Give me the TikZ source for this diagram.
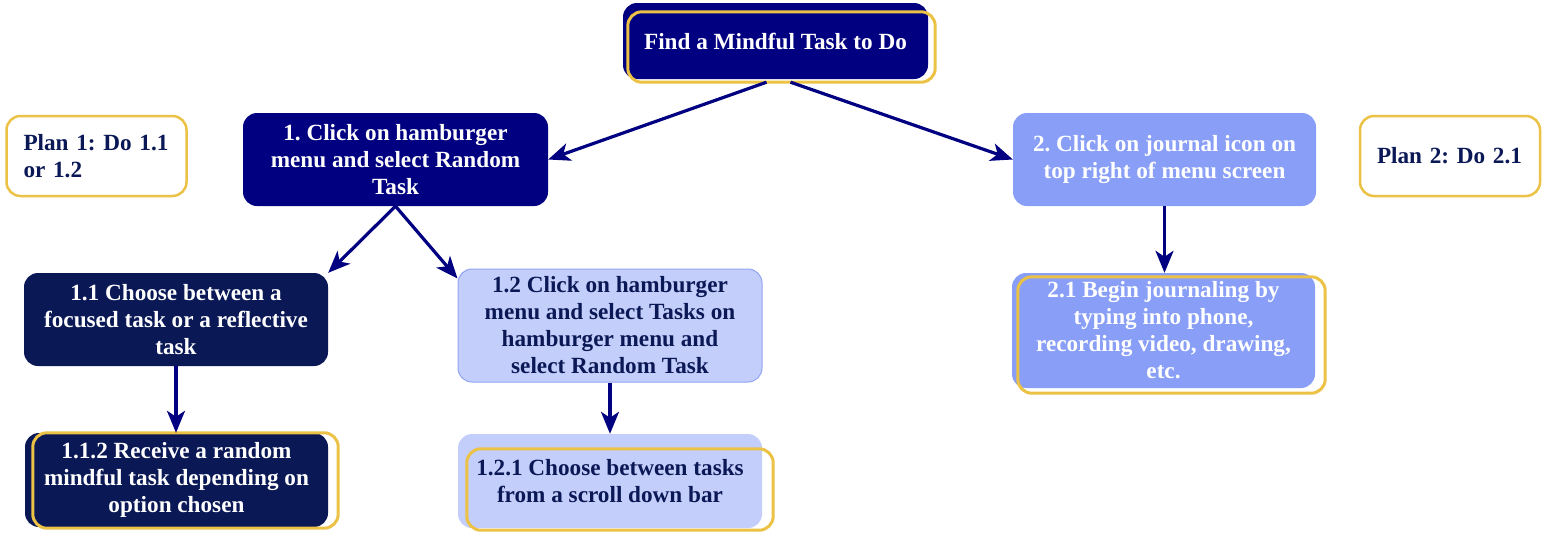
\documentclass[tikz,border=0pt]{standalone}
\usepackage{fontspec}
\setmainfont{Liberation Serif}
\frenchspacing
\usetikzlibrary{arrows.meta,positioning}
\definecolor{navy}{RGB}{0,0,128}
\definecolor{inkblue}{RGB}{10,24,86}
\definecolor{midblue}{RGB}{136,158,247}
\definecolor{paleblue}{RGB}{196,206,250}
\definecolor{edgeblue}{RGB}{143,163,243}
\definecolor{gold}{RGB}{235,193,70}
\tikzset{
  box/.style={rounded corners=14pt, inner sep=0pt, align=center,
              minimum width=304pt, minimum height=93pt,
              font=\fontsize{23.2}{27}\selectfont\bfseries},
  navybox/.style={box, fill=navy, text=white},
  inkbox/.style={box, fill=inkblue, text=white},
  midbox/.style={box, fill=midblue, text=white},
  palebox/.style={box, fill=paleblue, text=inkblue},
  planbox/.style={box, draw=gold, line width=2.5pt, fill=white, text=inkblue,
                  align=left, text width=146pt, inner xsep=16pt,
                  minimum width=180pt, minimum height=80pt},
  frame/.style={draw=gold, line width=3pt, rounded corners=14pt},
  link/.style={draw=navy, line width=3.2pt, -{Stealth[length=22pt,width=18pt,inset=6pt]}}
}
\begin{document}
\begin{tikzpicture}[x=1pt, y=-1pt]
           \useasboundingbox (0,0) rectangle (1546,536);
           % top of the tree
           \node [navybox, minimum width=305pt, minimum height=76pt] (task) at (775.5,41) {Find a Mindful Task to Do};
           \node [navybox, minimum width=305pt] (menu) at (395.5,159.5) {1. Click on hamburger\\menu and select Random\\Task};
           \node [midbox, minimum width=303pt] (journal) at (1164.5,159.5) {2. Click on journal icon on\\top right of menu screen};
           % plans
           \node [planbox] (plana) at (96.5,156) {Plan 1: Do 1.1\\or 1.2};
           \node [planbox] (planb) at (1450,156) {Plan 2: Do 2.1};
           % second level
           \node [inkbox] (choose) at (176,319.5) {1.1 Choose between a\\focused task or a reflective\\task};
           \node [palebox, draw=edgeblue, line width=1pt, minimum height=113pt] (tasks) at (610,325.5) {1.2 Click on hamburger\\menu and select Tasks on\\hamburger menu and\\select Random Task};
           \node [midbox, minimum width=303pt, minimum height=115pt] (write) at (1163.5,330.5) {2.1 Begin journaling by\\typing into phone,\\recording video, drawing,\\etc.};
           % third level
           \node [inkbox, minimum width=303pt, minimum height=94pt] (receive) at (176.5,480) {1.1.2 Receive a random\\mindful task depending on\\option chosen};
           \node [palebox, minimum height=94pt] (scroll) at (610,481) {1.2.1 Choose between tasks\\from a scroll down bar};
           % gold frames
           \draw [frame] ([shift={(5,9)}]task.north west) rectangle ([shift={(7,3)}]task.south east);
           \draw [frame] ([shift={(6,4)}]write.north west) rectangle ([shift={(10,5)}]write.south east);
           \draw [frame] ([shift={(8,0)}]receive.north west) rectangle ([shift={(10,1)}]receive.south east);
           \draw [frame] ([shift={(9,15)}]scroll.north west) rectangle ([shift={(11,2)}]scroll.south east);
           % arrows
           \draw [link] ([shift={(-9,3)}]task.south) -- (menu.east);
           \draw [link] ([shift={(15,3)}]task.south) -- (journal.west);
           \draw [link] (menu.south) -- (choose.north east);
           \draw [link] (menu.south) -- ([yshift=-10pt]tasks.north west);
           \draw [link] (choose.south) -- (choose.south |- receive.north);
           \draw [link] (tasks.south) -- (scroll.north);
           \draw [link] (journal.south) -- (journal.south |- write.north);
      \end{tikzpicture}
\end{document}
